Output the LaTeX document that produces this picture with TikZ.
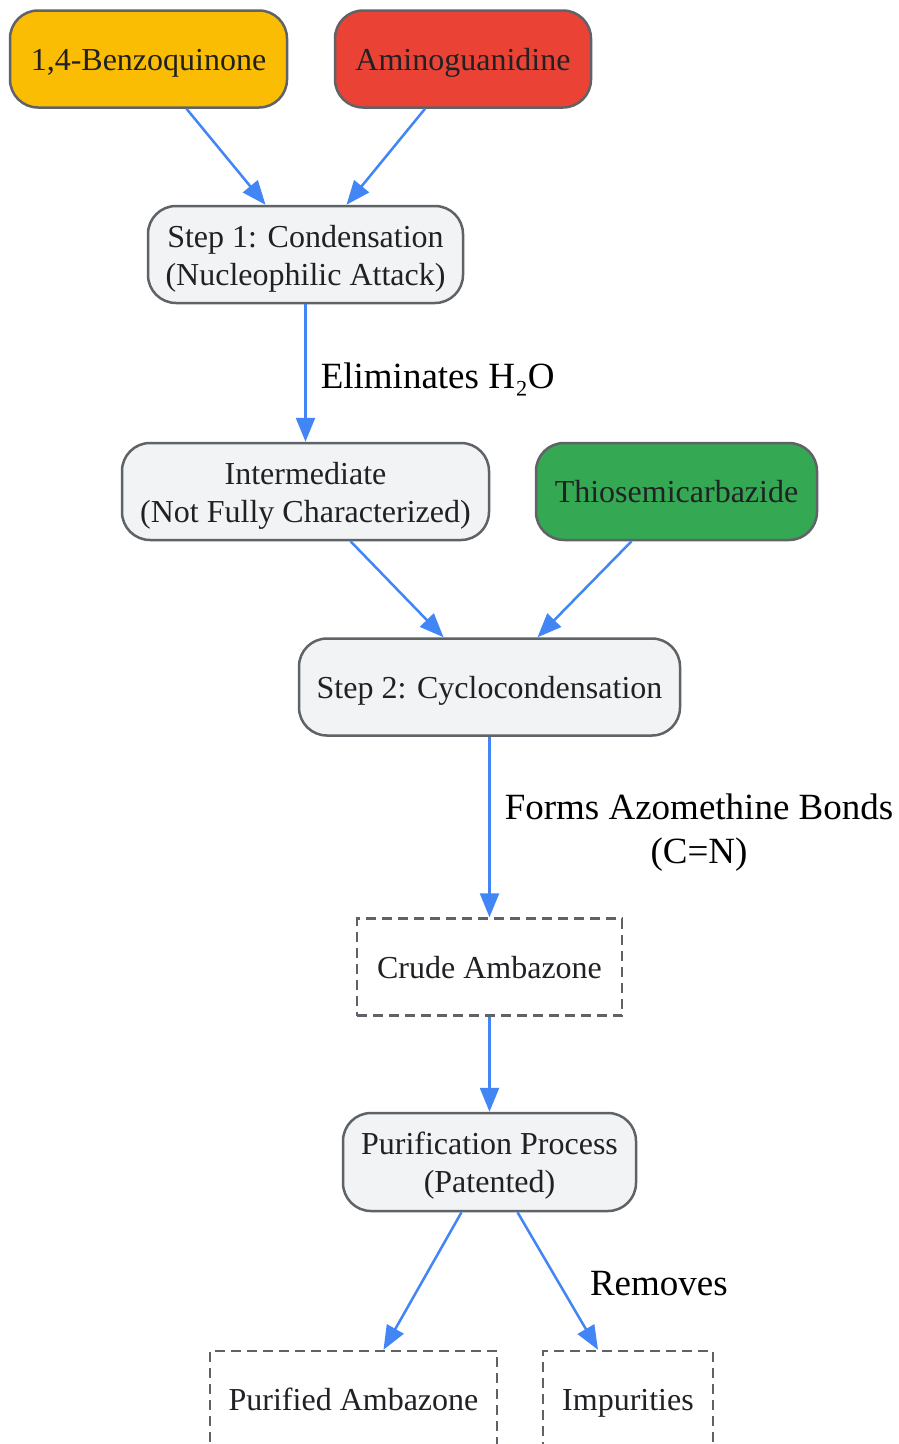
\documentclass[tikz,border=0pt]{standalone}
\usepackage{fontspec}
\setmainfont{Liberation Serif}
\usetikzlibrary{arrows.meta}
\definecolor{edgeblue}{HTML}{4285F4}
\definecolor{bordergray}{HTML}{5F6368}
\definecolor{procfill}{HTML}{F1F3F4}
\definecolor{yelfill}{HTML}{FBBC04}
\definecolor{redfill}{HTML}{EA4335}
\definecolor{grnfill}{HTML}{34A853}
\definecolor{txtc}{HTML}{202124}
\begin{document}
\begin{tikzpicture}[x=1pt,y=-1pt,
  box/.style={draw=bordergray, line width=2.5pt, rounded corners=28pt, minimum height=97pt, inner sep=0pt, align=center, font=\fontsize{32}{38}\selectfont, text=txtc, text height=22pt, text depth=0pt},
  two/.style={text height=61pt, text depth=0pt},
  proc/.style={box, fill=procfill},
  dbox/.style={draw=bordergray, line width=2.5pt, dash pattern=on 10pt off 6pt, minimum height=97pt, inner sep=0pt, align=center, font=\fontsize{32}{38}\selectfont, text=txtc, text height=22pt, text depth=0pt},
  arr/.style={draw=edgeblue, line width=2.5pt, -{Triangle[length=24pt,width=19pt]}},
  lab/.style={font=\fontsize{37}{44}\selectfont, align=center, text=black, inner sep=0pt}]
\useasboundingbox (0,0) rectangle (899,1444);
\clip (0,0) rectangle (899,1444);
\fill[white] (0,0) rectangle (899,1444);

\node[box, fill=yelfill, minimum width=277pt] (bq) at (148.5,59) {1,4-Benzoquinone};
\node[box, fill=redfill, minimum width=256pt] (ag) at (463,59) {Aminoguanidine};
\node[proc, two, minimum width=315pt] (s1) at (305.5,254.5) {Step 1: Condensation\\(Nucleophilic Attack)};
\node[proc, two, minimum width=367pt] (im) at (305.5,491.5) {Intermediate\\(Not Fully Characterized)};
\node[box, fill=grnfill, minimum width=281pt] (th) at (676.5,491.5) {Thiosemicarbazide};
\node[proc, minimum width=381pt] (s2) at (489.5,687) {Step 2: Cyclocondensation};
\node[dbox, minimum width=265pt] (cr) at (489.5,967) {Crude Ambazone};
\node[proc, two, minimum width=293pt, minimum height=98pt] (pu) at (489.5,1162) {Purification Process\\(Patented)};
\node[dbox, minimum width=287pt] (pa) at (353.5,1399.5) {Purified Ambazone};
\node[dbox, minimum width=170pt] (ip) at (628,1399.5) {Impurities};

\draw[arr] ([xshift=38pt]bq.south) -- ([xshift=-40pt]s1.north);
\draw[arr] ([xshift=-38pt]ag.south) -- ([xshift=41pt]s1.north);
\draw[arr] (s1.south) -- node[lab, midway, anchor=west, xshift=14pt, yshift=-6pt] {Eliminates H₂O} (im.north);
\draw[arr] ([xshift=45pt]im.south) -- ([xshift=-46pt]s2.north);
\draw[arr] ([xshift=-45pt]th.south) -- ([xshift=48pt]s2.north);
\draw[arr] (s2.south) -- node[lab, midway, anchor=west, xshift=14pt, yshift=-6pt] {Forms Azomethine Bonds\\(C=N)} (cr.north);
\draw[arr] (cr.south) -- (pu.north);
\draw[arr] ([xshift=-28pt]pu.south) -- ([xshift=30pt]pa.north);
\draw[arr] ([xshift=28pt]pu.south) -- node[lab, midway, anchor=west, xshift=31pt, yshift=-3pt] {Removes} ([xshift=-30pt]ip.north);
\end{tikzpicture}
\end{document}
